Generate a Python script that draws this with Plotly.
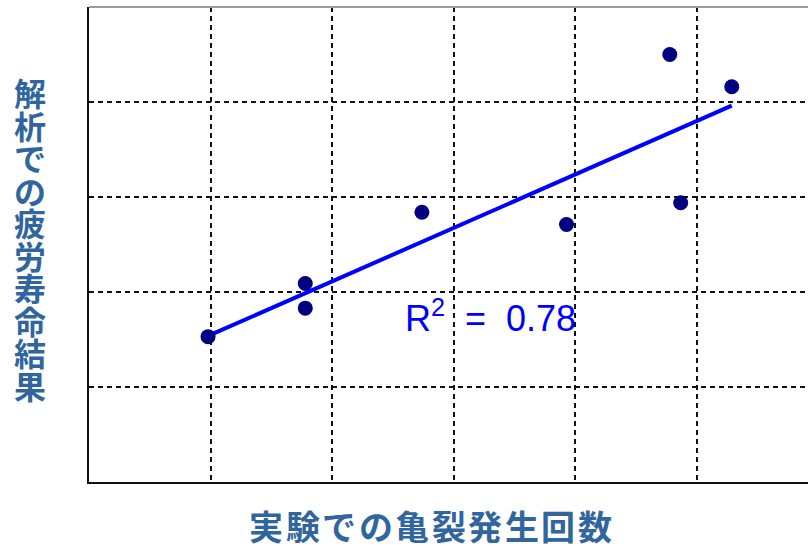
import numpy as np
import plotly.graph_objects as go

# Measured crack-initiation counts (experiment) vs. analysed fatigue life (normalised units)
x_exp = [0.98, 1.78, 1.78, 2.74, 3.93, 4.78, 4.87, 5.29]
y_ana = [1.53, 2.09, 1.83, 2.84, 2.71, 4.50, 2.94, 4.16]

x_title = "実験での亀裂発生回数"
y_title = "解析での疲労寿命結果"
grid_vals_x = [1, 2, 3, 4, 5]
grid_vals_y = [0, 1, 2, 3, 4, 5]

W, H = 808, 549
ML, MR, MT, MB = 89, 0, 7, 67
PW, PH = W - ML - MR, H - MT - MB

TITLE_BLUE = "#31659E"
CJK = "Noto Sans CJK JP"

# least-squares regression line and coefficient of determination
xa = np.array(x_exp)
ya = np.array(y_ana)
slope, intercept = np.polyfit(xa, ya, 1)
pred = slope * xa + intercept
r2 = 1 - np.sum((ya - pred) ** 2) / np.sum((ya - ya.mean()) ** 2)
x_fit = np.array([xa.min(), xa.max()])
y_fit = slope * x_fit + intercept

fig = go.Figure()
fig.add_trace(go.Scatter(
    x=x_fit, y=y_fit, mode="lines",
    line=dict(color="#0000FF", width=4),
    hoverinfo="skip", showlegend=False,
))
fig.add_trace(go.Scatter(
    x=x_exp, y=y_ana, mode="markers",
    marker=dict(color="#000080", size=15, line=dict(width=0)),
    showlegend=False,
))


def px_to_paper(px, py):
    return (px - ML) / PW, (H - MB - py) / PH


annotations = []
# vertical axis title, one character per row
for i, ch in enumerate(y_title):
    xp, yp = px_to_paper(30, 92 + i * 32.5)
    annotations.append(dict(
        text=ch, x=xp, y=yp, xref="paper", yref="paper",
        xanchor="center", yanchor="middle", showarrow=False,
        borderpad=0,
        font=dict(family=CJK, size=32, color=TITLE_BLUE, weight="bold"),
    ))
# horizontal axis title
for i, ch in enumerate(x_title):
    xp, yp = px_to_paper(266 + i * 36.5, 525)
    annotations.append(dict(
        text=ch, x=xp, y=yp, xref="paper", yref="paper",
        xanchor="center", yanchor="middle", showarrow=False,
        borderpad=0,
        font=dict(family=CJK, size=34, color=TITLE_BLUE, weight="bold"),
    ))
# R² label
annotations.append(dict(
    text=f"R<sup>2</sup>\u00a0\u00a0=\u00a0\u00a0{r2:.2f}", x=(490 - ML) / 121.5, y=1.75,
    xref="x", yref="y",
    xanchor="center", yanchor="middle", showarrow=False,
    font=dict(family="Liberation Sans, Arial", size=36, color="#0000FF"),
))

fig.update_layout(
    width=W, height=H,
    margin=dict(l=ML, r=MR, t=MT, b=MB),
    paper_bgcolor="white", plot_bgcolor="white",
    annotations=annotations,
    shapes=[dict(type="line", xref="paper", yref="paper",
                 x0=0, x1=1, y0=1, y1=1,
                 line=dict(color="#9a9a9a", width=2))],
)
fig.update_xaxes(
    range=[0, PW / 121.5], tickvals=grid_vals_x, showticklabels=False,
    showgrid=True, gridcolor="#111111", gridwidth=1.5, griddash="5px,4px",
    showline=True, linecolor="#111111", linewidth=2, zeroline=False,
    ticks="",
)
fig.update_yaxes(
    range=[0, 5], tickvals=grid_vals_y, showticklabels=False,
    showgrid=True, gridcolor="#111111", gridwidth=1.5, griddash="5px,4px",
    showline=True, linecolor="#111111", linewidth=2, zeroline=False,
    ticks="inside", ticklen=5, tickcolor="#111111", tickwidth=2,
)

fig.write_html("out.html")
